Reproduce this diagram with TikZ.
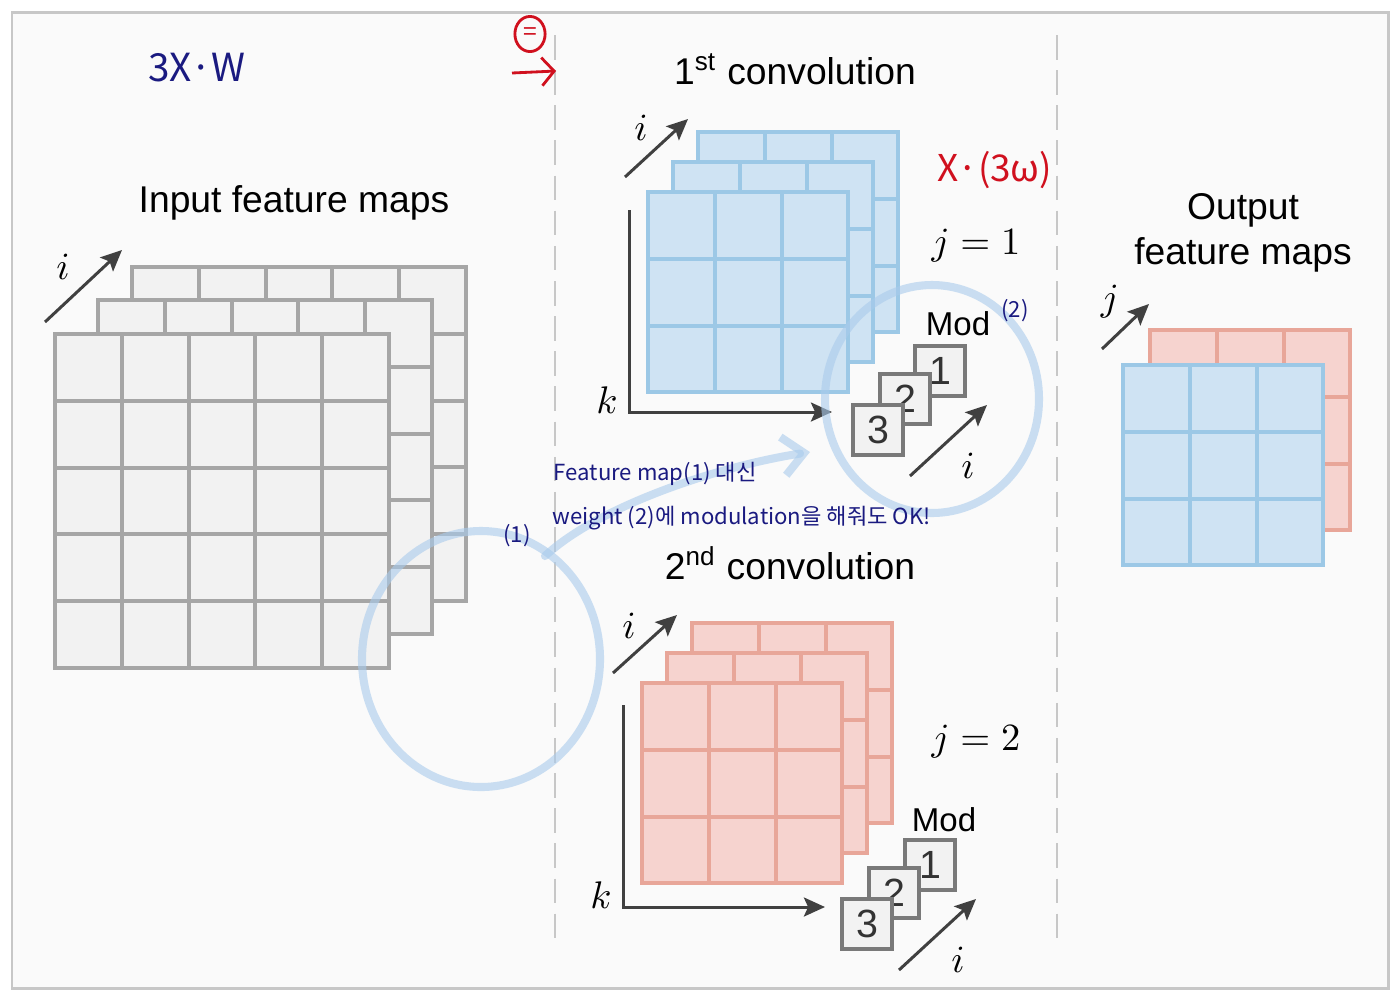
\documentclass[tikz,border=0pt]{standalone}
\usepackage{fontspec}
\setmainfont{Liberation Sans}
\newfontfamily\hand{Noto Sans CJK KR}
\usepackage{tikz}
\usetikzlibrary{arrows.meta, shapes.geometric}

\definecolor{mapgray}{HTML}{A6A6A6}
\definecolor{mapgrayfill}{HTML}{F2F2F2}
\definecolor{mapblue}{HTML}{9CC8E6}
\definecolor{mapbluefill}{HTML}{CFE3F3}
\definecolor{mapred}{HTML}{E8A699}
\definecolor{mapredfill}{HTML}{F6D3CF}
\definecolor{axisgray}{HTML}{404040}
\definecolor{pen}{HTML}{1A1A80}
\definecolor{redpen}{HTML}{D0101E}
\definecolor{hoopblue}{HTML}{A9CBEC}

% one feature map: style, left, top, number of cells
\newcommand{\fmap}[4]{%
	\filldraw[#1] (#2,#3) rectangle ++(#4*66.8,#4*66.8);
	\foreach \g in {1,...,#4}{
		\draw[#1] ({#2+\g*66.8},#3) -- ++(0,#4*66.8);
		\draw[#1] (#2,{#3+\g*66.8}) -- ++(#4*66.8,0);
	}%
}

\begin{document}
\begin{tikzpicture}[x=0.1mm, y=-0.1mm,
	every node/.style={font=\fontsize{10.6}{12.8}\selectfont},
	gmap/.style={draw=mapgray, fill=mapgrayfill, line width=1.1pt},
	bmap/.style={draw=mapblue, fill=mapbluefill, line width=1.1pt},
	rmap/.style={draw=mapred, fill=mapredfill, line width=1.1pt},
	axis/.style={draw=axisgray, line width=0.85pt, -{Stealth[length=6pt, width=5.4pt, inset=1.2pt]}},
	modbox/.style={draw=gray!95!black, fill=mapgrayfill, line width=1.1pt, minimum size=14.4pt, inner sep=0pt, text=black!80,
		font=\fontsize{11.2}{13}\selectfont},
	modlabel/.style={font=\fontsize{9.4}{11}\selectfont},
	hoop/.style={draw=hoopblue, line width=2.3pt, opacity=0.6, ellipse, inner sep=0pt},
	sep/.style={draw=black!22, line width=0.8pt, dash pattern=on 7pt off 3pt},
	note/.style={font=\hand\fontsize{6.3}{8}\selectfont, text=pen, inner sep=0pt}
	]
	\useasboundingbox (0,0) rectangle (1399,1000);
	\filldraw[fill=black!2, draw=black!22, line width=0.85pt] (12,12) rectangle (1388,988);

	%dashed separators
	\coordinate (s1a) at (555,35);
	\coordinate (s1b) at (555,945);
	\coordinate (s2a) at (1057,35);
	\coordinate (s2b) at (1057,940);
	\draw[sep] (s1a) -- (s1b);
	\draw[sep] (s2a) -- (s2b);

	%titles
	\node (tin)  at (294,203) {Input feature maps};
	\node (tc1)  at (795,69)  {1\textsuperscript{st} convolution};
	\node (tc2)  at (790,563) {2\textsuperscript{nd} convolution};
	\node[align=center] (tout) at (1243,233) {Output\\feature maps};
	\node (jone) at (976,246) {$j = 1$};
	\node (jtwo) at (976,742) {$j = 2$};

	%input feature maps
	\fmap{gmap}{132}{267}{5}
	\fmap{gmap}{98}{300}{5}
	\fmap{gmap}{55}{334}{5}
	\coordinate (in0) at (45,322);
	\coordinate (in1) at (122,250);
	\draw[axis] (in0) -- (in1);
	\node (lin) at (63,267) {$i$};

	%1st convolution (j = 1)
	\fmap{bmap}{698}{132}{3}
	\fmap{bmap}{673}{162}{3}
	\fmap{bmap}{648}{192}{3}
	\coordinate (ci0) at (625,177);
	\coordinate (ci1) at (688,119);
	\coordinate (ck0) at (629,210);
	\coordinate (ck1) at (629,412);
	\coordinate (ck2) at (832,412);
	\draw[axis] (ci0) -- (ci1);
	\draw[axis] (ck0) -- (ck1) -- (ck2);
	\node (lci) at (641,128) {$i$};
	\node (lck) at (607,400) {$k$};

	\node[modlabel] (moda) at (958,324) {Mod};
	\node[modbox] (ma1) at (940,371) {1};
	\node[modbox] (ma2) at (905,399) {2};
	\node[modbox] (ma3) at (878,430) {3};
	\coordinate (mi0) at (910,476);
	\coordinate (mi1) at (987,405);
	\draw[axis] (mi0) -- (mi1);
	\node (lmi) at (968,466) {$i$};

	%2nd convolution (j = 2)
	\fmap{rmap}{692}{623}{3}
	\fmap{rmap}{667}{653}{3}
	\fmap{rmap}{642}{683}{3}
	\coordinate (di0) at (613,673);
	\coordinate (di1) at (677,615);
	\coordinate (dk0) at (623,705);
	\coordinate (dk1) at (623,907);
	\coordinate (dk2) at (825,907);
	\draw[axis] (di0) -- (di1);
	\draw[axis] (dk0) -- (dk1) -- (dk2);
	\node (ldi) at (629,626) {$i$};
	\node (ldk) at (601,895) {$k$};

	\node[modlabel] (modb) at (944,820) {Mod};
	\node[modbox] (mb1) at (930,865) {1};
	\node[modbox] (mb2) at (894,893) {2};
	\node[modbox] (mb3) at (867,924) {3};
	\coordinate (ni0) at (899,970);
	\coordinate (ni1) at (976,899);
	\draw[axis] (ni0) -- (ni1);
	\node (lni) at (958,960) {$i$};

	%output feature maps
	\fmap{rmap}{1150}{330}{3}
	\fmap{bmap}{1123}{365}{3}
	\coordinate (oj0) at (1102,349);
	\coordinate (oj1) at (1149,304);
	\draw[axis] (oj0) -- (oj1);
	\node (loj) at (1110,302) {$j$};

	%hand notes
	\node[hoop, minimum width=21.4mm, minimum height=22.8mm] (hup) at (932,399) {};
	\node[hoop, minimum width=23.8mm, minimum height=25.6mm] (hlo) at (481,659) {};
	\coordinate (cv0) at (545,556);
	\coordinate (cv1) at (810,452);
	\draw[draw=hoopblue, line width=2.3pt, opacity=0.6, line cap=round,
		-{Straight Barb[length=6pt, width=11pt]}]
		(cv0) .. controls (600,505) and (720,466) .. (cv1);

	\node[note, font=\hand\fontsize{11}{13}\selectfont] (wxw) at (197,68) {3X·W};
	\node[draw=redpen, line width=0.8pt, ellipse, minimum width=8.6pt, minimum height=10pt,
		inner sep=0pt, text=redpen, font=\hand\fontsize{7}{8}\selectfont] (eqc) at (530,34) {=};
	\coordinate (ra0) at (512,73);
	\coordinate (ra1) at (556,71);
	\draw[redpen, line width=0.8pt, -{Straight Barb[length=3.5pt, width=8pt]}] (ra0) -- (ra1);
	\node[note, text=redpen, font=\hand\fontsize{10.5}{12}\selectfont] (xw) at (995,170) {X·(3ω)};
	\node[note] (ntwo) at (1015,311) {(2)};
	\node[note] (none) at (517,536) {(1)};
	\node[note, anchor=west] (kor1) at (553,474) {Feature map(1) 대신};
	\node[note, anchor=west] (kor2) at (552,518) {weight (2)에 modulation을 해줘도 OK!};
\end{tikzpicture}
\end{document}
